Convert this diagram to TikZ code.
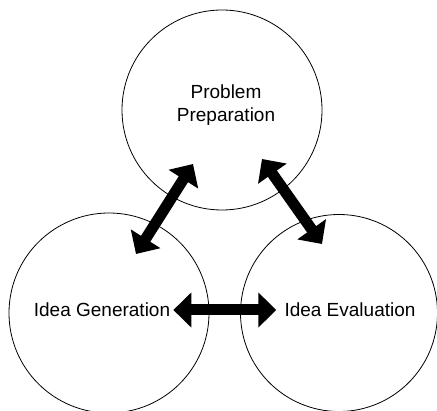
\documentclass[tikz,border=0pt]{standalone}
\usepackage{fontspec}
\setmainfont{Liberation Sans}
\usetikzlibrary{arrows.meta}
\begin{document}
\begin{tikzpicture}[x=1pt,y=-1pt,
  ring/.style={circle,draw,line width=0.8pt,minimum size=#1,inner sep=0pt},
  lbl/.style={font=\fontsize{19}{23}\selectfont,align=center,inner sep=0pt},
  dbl/.style={line width=11pt,{Triangle[width=34pt,length=18pt]}-{Triangle[width=34pt,length=18pt]}}]
\useasboundingbox (0,0) rectangle (437,411);
\node[ring=200pt] (pp) at (222,110) {};
\node[ring=200pt] (ig) at (109,313) {};
\node[ring=197pt] (ie) at (339,313) {};
\node[lbl] (tpp) at (226,105) {Problem\\Preparation};
\node[lbl] (tig) at (102,310) {Idea Generation};
\node[lbl] (tie) at (350,310) {Idea Evaluation};
\coordinate (a1) at (193,164);
\coordinate (a2) at (136,254);
\coordinate (b1) at (262,159);
\coordinate (b2) at (322,244);
\draw[dbl] (a1) -- (a2);
\draw[dbl] (b1) -- (b2);
\draw[dbl] ([xshift=3pt]tig.east) -- ([xshift=-8pt]tie.west);
\end{tikzpicture}
\end{document}
